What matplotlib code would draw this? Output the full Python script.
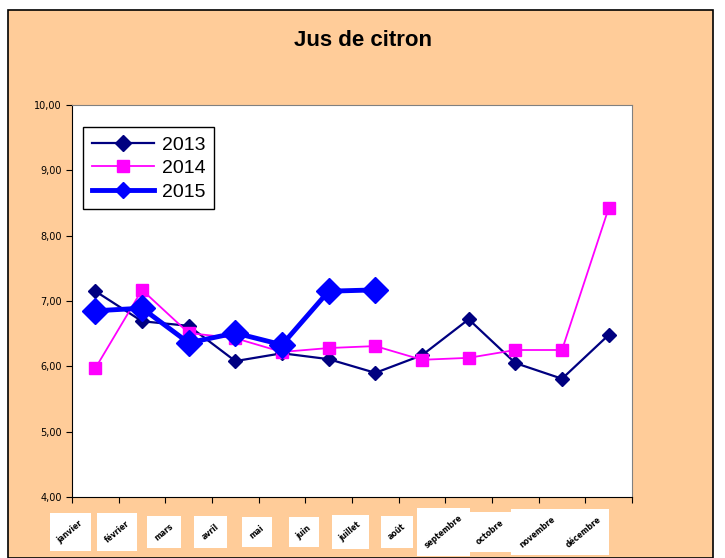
import matplotlib.pyplot as plt
from matplotlib.patches import Rectangle

# ---------------- DATA ---------------- #

mois = ["janvier", "février", "mars", "avril", "mai", "juin", "juillet",
        "août", "septembre", "octobre", "novembre", "décembre"]

v2013 = [7.15, 6.69, 6.62, 6.08, 6.20, 6.11, 5.90, 6.17, 6.72, 6.05, 5.81, 6.48]
v2014 = [5.97, 7.17, 6.51, 6.43, 6.22, 6.28, 6.31, 6.10, 6.13, 6.25, 6.25, 8.42]
v2015 = [6.85, 6.89, 6.36, 6.51, 6.33, 7.15, 7.17]

yticks = [4, 5, 6, 7, 8, 9, 10]

orange = "#FFCC99"

# ---------------- FIGURE ---------------- #

fig = plt.figure(figsize=(7.25, 5.58), dpi=100)
fig.patch.set_facecolor("white")
fig.patches.append(Rectangle((8/725, 0), 705/725, 1 - 10/558, transform=fig.transFigure,
                             facecolor=orange, edgecolor="black", linewidth=1.2, zorder=-1))

ax = fig.add_axes([72/725, 1 - 497/558, 560/725, 392/558])
ax.set_facecolor("white")

x = list(range(len(mois)))
ax.plot(x, v2013, color="#000080", marker="D", markersize=7, linewidth=1.6, label="2013")
ax.plot(x, v2014, color="#FF00FF", marker="s", markersize=8, linewidth=1.3, label="2014")
ax.plot(x[:len(v2015)], v2015, color="#0000FF", marker="D", markersize=13, linewidth=3.5, label="2015")

ax.set_xlim(-0.5, 11.5)
ax.set_ylim(4, 10)
ax.set_yticks(yticks)
ax.set_yticklabels([("%.2f" % v).replace(".", ",") for v in yticks])
ax.tick_params(axis="y", labelsize=7, length=4, direction="out")

# tick marks between categories
ax.set_xticks([i + 0.5 for i in range(-1, 12)])
ax.set_xticklabels([])
ax.tick_params(axis="x", length=4, direction="out")

for s in ["top", "right"]:
    ax.spines[s].set_color("#808080")
for s in ["left", "bottom"]:
    ax.spines[s].set_color("black")

fig.text(0.5, 1 - 40/558, "Jus de citron", ha="center", va="center",
         fontsize=16, fontweight="bold", family="Liberation Sans")

leg = ax.legend(loc="upper left", bbox_to_anchor=(0.002, 0.968),
                fancybox=False, framealpha=1, edgecolor="black",
                handlelength=3.2, borderpad=0.45, labelspacing=0.3, handletextpad=0.4,
                prop={"family": "Liberation Sans", "size": 14})
leg.get_frame().set_linewidth(1)
for h in leg.legend_handles:
    h.set_markersize(8)

# month labels: tiny rotated text on white boxes
fig.canvas.draw()
labels = []
for i, m in enumerate(mois):
    px, _ = ax.transData.transform((i, 4))
    t = fig.text((px - 25) / 725, 1 - 532/558, m, rotation=40, fontsize=5.5,
                 fontweight="bold", ha="center", va="center")
    labels.append(t)
fig.canvas.draw()
r = fig.canvas.get_renderer()
for t in labels:
    bb = t.get_window_extent(r)
    pad = 6
    fig.patches.append(Rectangle(((bb.x0 - pad) / 725, (bb.y0 - pad) / 558),
                                 (bb.width + 2*pad) / 725, (bb.height + 2*pad) / 558,
                                 transform=fig.transFigure, facecolor="white",
                                 edgecolor="none", zorder=0))

plt.savefig("out.png", dpi=100, facecolor=fig.get_facecolor())
